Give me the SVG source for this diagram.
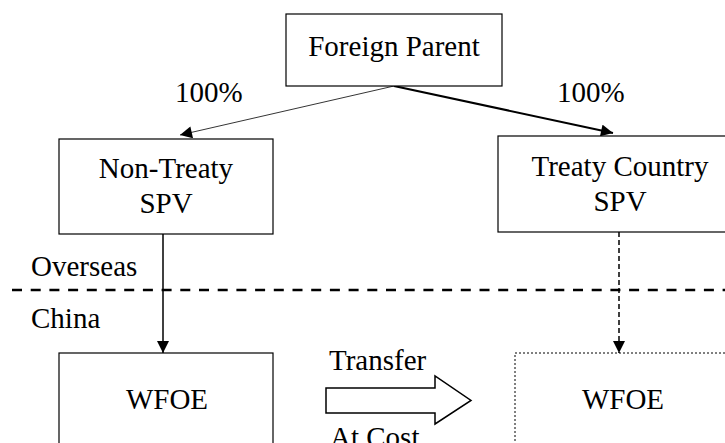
<svg xmlns="http://www.w3.org/2000/svg" width="725" height="443" viewBox="0 0 725 443">
<style>
.box{fill:#fff;stroke:#000;stroke-width:1.2}
.dot{fill:#fff;stroke:#000;stroke-width:1;stroke-dasharray:2 2}
text{font-family:"Liberation Serif","Times New Roman",serif;font-size:29px;fill:#000}
.c{text-anchor:middle}
</style>
<defs>
<marker id="ah" viewBox="0 0 10 10" refX="10" refY="5" markerWidth="14" markerHeight="12" markerUnits="userSpaceOnUse" orient="auto"><path d="M0,0L10,5L0,10z" fill="#000"/></marker>
</defs>
<rect width="725" height="443" fill="#fff"/>
<g id="connectors">
<line x1="394" y1="86" x2="180" y2="135" stroke="#000" stroke-width="0.8" marker-end="url(#ah)"/>
<line x1="394" y1="86" x2="613" y2="133" stroke="#000" stroke-width="2" marker-end="url(#ah)"/>
<line x1="163" y1="234" x2="163" y2="353" stroke="#000" stroke-width="1.5" marker-end="url(#ah)"/>
<line x1="619" y1="232" x2="619" y2="353" stroke="#000" stroke-width="1.5" stroke-dasharray="5 3" marker-end="url(#ah)"/>
<polygon points="326,388 435,388 435,376 471,400.5 435,424 435,413 326,413" fill="#fff" stroke="#000" stroke-width="1.5"/>
</g>
<g id="boundary">
<line x1="12" y1="290" x2="725" y2="290" stroke="#000" stroke-width="2.5" stroke-dasharray="10 8.7"/>
<text x="31" y="276">Overseas</text>
<text x="31" y="328">China</text>
</g>
<g id="foreign-parent">
<rect class="box" x="286" y="14" width="216" height="72"/>
<text class="c" x="394" y="56">Foreign Parent</text>
</g>
<g id="label-left"><text x="175" y="102">100%</text></g>
<g id="label-right"><text x="557" y="102">100%</text></g>
<g id="non-treaty-spv">
<rect class="box" x="59" y="139" width="214" height="95"/>
<text class="c" x="166" y="178">Non-Treaty</text>
<text class="c" x="166" y="213">SPV</text>
</g>
<g id="treaty-spv">
<rect class="box" x="498" y="136" width="244" height="96"/>
<text class="c" x="620" y="176">Treaty Country</text>
<text class="c" x="620" y="211">SPV</text>
</g>
<g id="wfoe-left">
<rect class="box" x="59" y="353" width="214" height="110"/>
<text class="c" x="167" y="409">WFOE</text>
</g>
<g id="wfoe-right">
<rect class="dot" x="515" y="353" width="216" height="110"/>
<text class="c" x="623" y="409">WFOE</text>
</g>
<g id="transfer-label">
<text x="329" y="370">Transfer</text>
<text x="330" y="447">At Cost</text>
</g>
</svg>
